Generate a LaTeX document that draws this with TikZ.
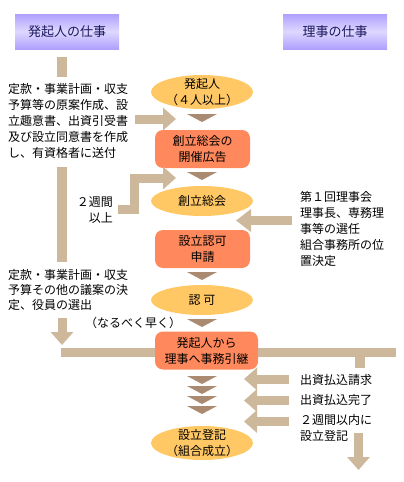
\documentclass[tikz,border=0pt]{standalone}
\usepackage{fontspec}
\setmainfont{Noto Sans CJK JP}
\usepackage{tikz}
\usetikzlibrary{shapes.geometric,arrows.meta}
\definecolor{hdrdark}{RGB}{176,160,252}
\definecolor{hdrlight}{RGB}{222,216,255}
\definecolor{hdrtext}{RGB}{28,24,96}
\definecolor{barcol}{RGB}{206,184,156}
\definecolor{tricol}{RGB}{170,138,112}
\definecolor{ovalcol}{RGB}{255,200,100}
\definecolor{boxcol}{RGB}{255,136,92}

\tikzset{
  header/.style={minimum width=104pt,minimum height=35pt,inner sep=0pt,
    top color=hdrdark,bottom color=hdrdark,middle color=hdrlight,
    text=hdrtext,font=\fontsize{13}{15}\selectfont},
  oval/.style={ellipse,fill=ovalcol,minimum width=102pt,minimum height=#1,
    inner xsep=0pt,inner ysep=-3pt,align=center,font=\fontsize{12}{15.5}\selectfont},
  oval/.default=30pt,
  stepbox/.style={rounded corners=8pt,fill=boxcol,minimum width=95pt,minimum height=38pt,
    inner sep=0pt,align=center,font=\fontsize{12}{16}\selectfont},
  note/.style={inner sep=0pt,font=\fontsize{12}{16}\selectfont},
  bar/.style={draw=barcol,line width=10pt},
  blockarrow/.style={draw=barcol,line width=9pt,line join=miter,
    -{Triangle[width=22pt,length=13pt]}},
}

\begin{document}
\begin{tikzpicture}[x=1pt,y=-1pt]
  \useasboundingbox (0,0) rectangle (404,482);

  % headers
  \node[header] (hdrA) at (67,31.5) {発起人の仕事};
  \node[header] (hdrB) at (335,31.5) {理事の仕事};

  % centre column
  \node[oval=34pt] (prom) at (202,92) {発起人\\（４人以上）};
  \node[stepbox] (koukoku) at (202.5,149) {創立総会の\\開催広告};
  \node[oval] (soukai) at (202,201) {創立総会};
  \node[stepbox] (shinsei) at (202.5,249) {設立認可\\申請};
  \node[oval] (ninka) at (202,300) {認 可};
  \node[stepbox,minimum width=103pt] (hikitsugi) at (206.5,350.5) {発起人から\\理事へ事務引継};
  \node[oval=34pt] (touki) at (202,443) {設立登記\\（組合成立）};

  \foreach \ty in {114,172,272,319,376,386,396,406}
    \fill[tricol] (187,\ty) -- (217,\ty) -- (202,\ty+8) -- cycle;

  % left column
  \node[note,anchor=north west,align=left] (txtA) at (8,83)
    {定款・事業計画・収支\\予算等の原案作成、設\\立趣意書、出資引受書\\及び設立同意書を作成\\し、有資格者に送付};
  \node[note,anchor=north east,align=right] (weeks) at (113,196) {２週間\\以上};
  \node[note,anchor=north west,align=left,font=\fontsize{12}{15}\selectfont] (txtB) at (8,269)
    {定款・事業計画・収支\\予算その他の議案の決\\定、役員の選出};
  \node[note] (asap) at (133,323) {（なるべく早く）};

  \draw[bar] (62,57) -- (62,77);
  \draw[bar] (62,167) -- (62,262);
  \coordinate (lb0) at (62,318);
  \coordinate (lb1) at (62,345);
  \draw[blockarrow] (lb0) -- (lb1);
  \coordinate (lh0) at (61,352.5);
  \draw[bar,line width=9pt] (lh0) -- (hikitsugi.west |- lh0);

  \coordinate (a1s) at (135,119);
  \coordinate (a1e) at (176,119);
  \draw[blockarrow] (a1s) -- (a1e);
  \coordinate (w0) at (118,209);
  \coordinate (w1) at (176,178);
  \draw[blockarrow] (w0) -- (134.5,209) -- (134.5,178) -- (w1);

  % right column
  \node[note,anchor=north west,align=left] (riji) at (300,191)
    {第１回理事会\\理事長、専務理\\事等の選任\\組合事務所の位\\置決定};
  \coordinate (r0) at (292,220.5);
  \coordinate (r1) at (236,220.5);
  \draw[blockarrow,-{Triangle[width=22pt,length=15pt]}] (r0) -- (r1);

  \coordinate (rh1) at (396,352.5);
  \draw[bar,line width=9pt] (hikitsugi.east |- rh1) -- (rh1);
  \draw[bar] (360,352.5) -- (360,368);

  \node[note,anchor=west] (req) at (300,380) {出資払込請求};
  \node[note,anchor=west] (done) at (300,400) {出資払込完了};
  \node[note,anchor=north west,align=left] (twoweeks) at (300,414) {２週間以内に\\設立登記};
  \foreach \ay/\nm in {379/p1,400.5/p2,421.5/p3}{
    \coordinate (\nm s) at (289,\ay);
    \coordinate (\nm e) at (244,\ay);
    \draw[blockarrow] (\nm s) -- (\nm e);
  }
  \coordinate (d0) at (358.5,433);
  \coordinate (d1) at (358.5,470);
  \draw[blockarrow] (d0) -- (d1);
\end{tikzpicture}
\end{document}
